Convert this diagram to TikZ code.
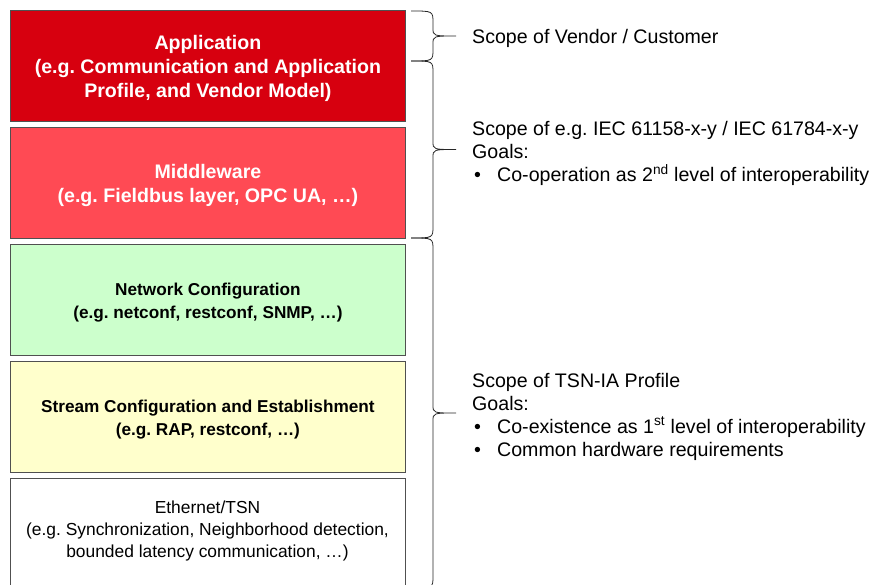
\documentclass[tikz,border=0pt]{standalone}
\usepackage{fontspec}
\setmainfont{Liberation Sans}
\frenchspacing
\definecolor{appred}{RGB}{215,0,15}
\definecolor{midred}{RGB}{255,74,84}
\definecolor{netgreen}{RGB}{204,255,204}
\definecolor{streamyellow}{RGB}{255,255,204}
\definecolor{edgegray}{RGB}{80,80,80}
\newcommand{\scopebrace}[2]{%
  \pgfmathsetmacro\ymid{(#1+#2)/2}%
  \draw[bracestyle] (411,#1) .. controls (433,#1) .. (433,{#1+12})
    -- (433,{\ymid-8}) .. controls (433,\ymid) .. (456,\ymid)
    .. controls (433,\ymid) .. (433,{\ymid+8})
    -- (433,{#2-12}) .. controls (433,#2) .. (411,#2);}
\begin{document}
\begin{tikzpicture}[x=1pt,y=-1pt,
  layer/.style={draw=edgegray, line width=0.8pt, minimum width=395pt,
    minimum height=111pt, anchor=north west, inner sep=0pt},
  layertext/.style={align=center, inner sep=0pt},
  bigbold/.style={font=\fontsize{19.6}{24}\selectfont\bfseries, text=white},
  smallbold/.style={font=\fontsize{17.2}{23}\selectfont\bfseries},
  smallreg/.style={font=\fontsize{17.4}{22}\selectfont},
  scopetext/.style={anchor=west, align=left, inner sep=0pt,
    font=\fontsize{19.6}{23}\selectfont},
  bracestyle/.style={draw=black!85, line width=0.8pt}]
\useasboundingbox (0,0) rectangle (874,585);
\begin{scope}
\clip (0,0) rectangle (874,585);
% protocol layers, top to bottom
\node[layer, fill=appred] (app) at (10,10) {};
\node[layer, fill=midred] (mid) at (10,127) {};
\node[layer, fill=netgreen] (net) at (10,244) {};
\node[layer, fill=streamyellow] (stream) at (10,361) {};
\node[layer, fill=white, minimum height=125pt] (eth) at (10,478) {};
% layer captions
\node[layertext, bigbold] (apptxt) at ([yshift=-3pt]app.center)
  {Application\\(e.g. Communication and Application\\Profile, and Vendor Model)};
\node[layertext, bigbold] (midtxt) at ([yshift=-3pt]mid.center)
  {Middleware\\(e.g. Fieldbus layer, OPC UA, …)};
\node[layertext, smallbold] (nettxt) at ([yshift=-3pt]net.center)
  {Network Configuration\\(e.g. netconf, restconf, SNMP, …)};
\node[layertext, smallbold] (streamtxt) at ([yshift=-3pt]stream.center)
  {Stream Configuration and Establishment\\(e.g. RAP, restconf, …)};
\node[layertext, smallreg] (ethtxt) at (207.5,530.5)
  {Ethernet/TSN\\(e.g. Synchronization, Neighborhood detection,\\bounded latency communication, …)};
% scope braces
\scopebrace{11}{61}
\scopebrace{61}{238}
\scopebrace{238}{588}
\end{scope}
% scope descriptions
\node[scopetext] (vendor) at (472,38) {Scope of Vendor / Customer};
\node[scopetext] (iec) at (472,153.5)
  {Scope of e.g. IEC 61158-x-y / IEC 61784-x-y\\
   Goals:\\
   \makebox[25pt][l]{\hspace{2pt}•}Co-operation as 2\textsuperscript{nd} level of interoperability};
\node[scopetext] (tsnia) at (472,416.5)
  {Scope of TSN-IA Profile\\
   Goals:\\
   \makebox[25pt][l]{\hspace{2pt}•}Co-existence as 1\textsuperscript{st} level of interoperability\\
   \makebox[25pt][l]{\hspace{2pt}•}Common hardware requirements};
\end{tikzpicture}
\end{document}
